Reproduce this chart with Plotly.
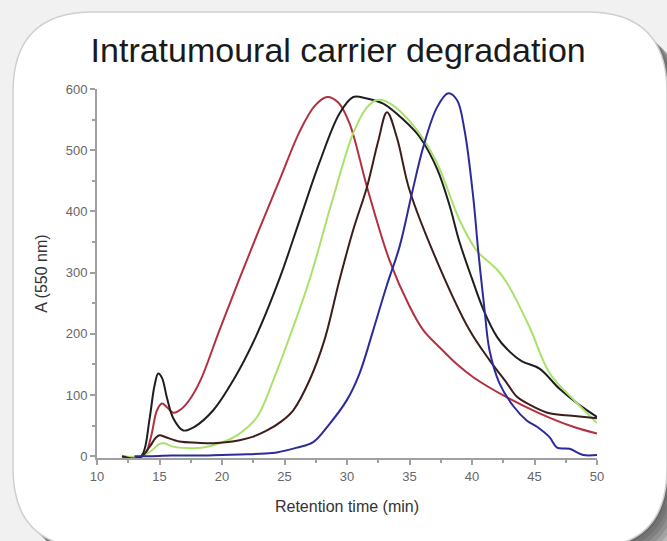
import plotly.graph_objects as go

# Retention time (min) / absorbance at 550 nm for each sampling point
red_t = [12, 13, 13.8, 14.3, 14.8, 15.2, 15.6, 16.1, 16.8, 17.5, 18.3, 19.8, 21.4, 23, 24.6,
         26.2, 27.4, 28.4, 29.3, 30.2, 31.6, 33.4, 35, 36.1, 37.4, 38.8, 40.1, 42.8, 45.4, 48.1, 50]
red_a = [0, -2, 2, 30, 75, 86, 80, 71, 78, 95, 125, 206, 290, 372, 451,
         530, 572, 587, 578, 544, 440, 320, 245, 206, 178, 150, 129, 96, 70, 48, 37]

black_t = [12, 12.6, 13.2, 13.7, 14.2, 14.6, 14.9, 15.2, 15.6, 16.1, 16.9, 17.8, 19.3, 20.9, 22.7,
           24.6, 26.2, 27.8, 29.4, 30.5, 31.5, 32.9, 34.5, 35.8, 37.2, 38.2, 39, 40, 40.9, 42,
           42.8, 44, 45.4, 47, 48.5, 50]
black_a = [-2, -4, -5, 5, 60, 115, 135, 128, 95, 62, 42, 48, 75, 124, 195,
           290, 385, 480, 560, 587, 585, 576, 550, 522, 470, 410, 350, 290, 240, 195,
           175, 155, 143, 110, 85, 64]

green_t = [12, 13.5, 14.3, 15, 15.4, 16, 17.4, 18.5, 19.8, 21.2, 22.8, 24.1, 25.5, 27, 28.9,
           30.5, 31.6, 32.4, 33.4, 35.6, 37.2, 39, 40.4, 40.9, 42, 42.8, 44.6, 46.2, 48, 50]
green_a = [0, 0, 8, 20, 21, 16, 13, 14, 21, 34, 64, 124, 200, 288, 423,
           528, 570, 582, 577, 533, 479, 386, 335, 325, 305, 283, 211, 136, 95, 54]

brown_t = [12, 13, 13.6, 14.2, 14.7, 15, 15.5, 16.6, 18, 19.3, 20.5, 21.4, 22.5, 23.6, 24.7,
           25.7, 27, 28.2, 29.4, 30.5, 31.6, 32.5, 33.2, 34, 35, 37.4, 39.8, 41.4, 42.8, 43.6,
           45, 46.2, 48, 50]
brown_a = [0, -4, 0, 15, 30, 34, 31, 24, 22, 21, 23, 26, 32, 42, 56,
           75, 124, 190, 288, 370, 440, 515, 562, 520, 435, 309, 206, 157, 119, 97,
           80, 70, 66, 62]

blue_t = [13, 14, 16, 18, 20, 22, 24, 24.6, 26, 27.3, 28.5, 30, 31, 32.1, 33.2, 34.2, 35.2,
          36.1, 37.2, 38.1, 38.8, 39.4, 40.1, 40.5, 41, 41.4, 42.2, 43.3, 44.4, 45.2, 46.2,
          46.8, 47.8, 48.9, 50]
blue_a = [0, 0, 1, 1, 2, 3, 5, 7, 14, 23, 50, 92, 135, 206, 280, 342, 430,
          505, 570, 593, 582, 533, 423, 335, 240, 173, 119, 82, 58, 48, 31,
          14, 12, 2, 2]

series = [
    (red_t, red_a, "#b3313f"),
    (black_t, black_a, "#1e1e1e"),
    (green_t, green_a, "#a8e26a"),
    (brown_t, brown_a, "#3d1c1c"),
    (blue_t, blue_a, "#2b2b9c"),
]

W, H = 667, 541
L, R, T, B = 97, 70, 89, 83


def px(x, y):
    """Convert canvas pixels to paper coordinates of the plot area."""
    pw, ph = W - L - R, H - T - B
    return (x - L) / pw, (H - B - y) / ph


def rounded_rect(x0, y0, x1, y1, r):
    pts = [
        ("M", [(x0 + r, y0)]), ("L", [(x1 - r, y0)]), ("Q", [(x1, y0), (x1, y0 + r)]),
        ("L", [(x1, y1 - r)]), ("Q", [(x1, y1), (x1 - r, y1)]), ("L", [(x0 + r, y1)]),
        ("Q", [(x0, y1), (x0, y1 - r)]), ("L", [(x0, y0 + r)]), ("Q", [(x0, y0), (x0 + r, y0)]),
    ]
    out = []
    for cmd, coords in pts:
        s = " ".join("%.5f,%.5f" % px(cx, cy) for cx, cy in coords)
        out.append(cmd + " " + s)
    return " ".join(out) + " Z"


fig = go.Figure()
for t, a, c in series:
    fig.add_trace(go.Scatter(x=t, y=a, mode="lines",
                             line=dict(color=c, width=2, shape="spline", smoothing=1.0),
                             showlegend=False, hoverinfo="skip"))

shapes = []
# soft drop shadow behind the card
for i in range(7):
    d = 2 + i * 3
    shapes.append(dict(type="path", xref="paper", yref="paper", layer="below",
                       path=rounded_rect(13 + d, 13 + d, 667 + d, 548 + d, 80),
                       fillcolor="rgba(40,40,40,0.15)", line=dict(width=0)))
shapes.append(dict(type="path", xref="paper", yref="paper", layer="below",
                   path=rounded_rect(13, 12, 667, 548, 80),
                   fillcolor="white", line=dict(color="#d0d0d0", width=1.5)))

axis_common = dict(showline=True, linecolor="#a0a0a0", linewidth=2, ticks="outside",
                   ticklen=5, tickwidth=1.5, tickcolor="#a0a0a0", showgrid=False,
                   zeroline=False, tickfont=dict(family="Liberation Sans", size=13, color="#666"),
                   mirror=False)

fig.update_layout(
    width=W, height=H,
    margin=dict(l=L, r=R, t=T, b=B),
    paper_bgcolor="#f1f1f1", plot_bgcolor="rgba(0,0,0,0)",
    shapes=shapes,
    title=dict(text="Intratumoural carrier degradation", xref="container", yref="container",
               x=0.507, y=1 - 50 / H, xanchor="center", yanchor="middle",
               font=dict(family="Liberation Sans", size=34, color="#1a1a1a")),
    xaxis=dict(range=[10, 50], tick0=10, dtick=5,
               minor=dict(ticks="outside", dtick=2.5, ticklen=3, tickcolor="#a0a0a0"),
               title=dict(text="Retention time (min)", standoff=18,
                          font=dict(family="Liberation Sans", size=16, color="#333")),
               **axis_common),
    yaxis=dict(range=[-3, 600], tick0=0, dtick=100,
               minor=dict(ticks="outside", dtick=50, ticklen=3, tickcolor="#a0a0a0"),
               title=dict(text="A (550 nm)", standoff=14,
                          font=dict(family="Liberation Sans", size=16, color="#333")),
               **axis_common),
)

fig.write_html("out.html")
